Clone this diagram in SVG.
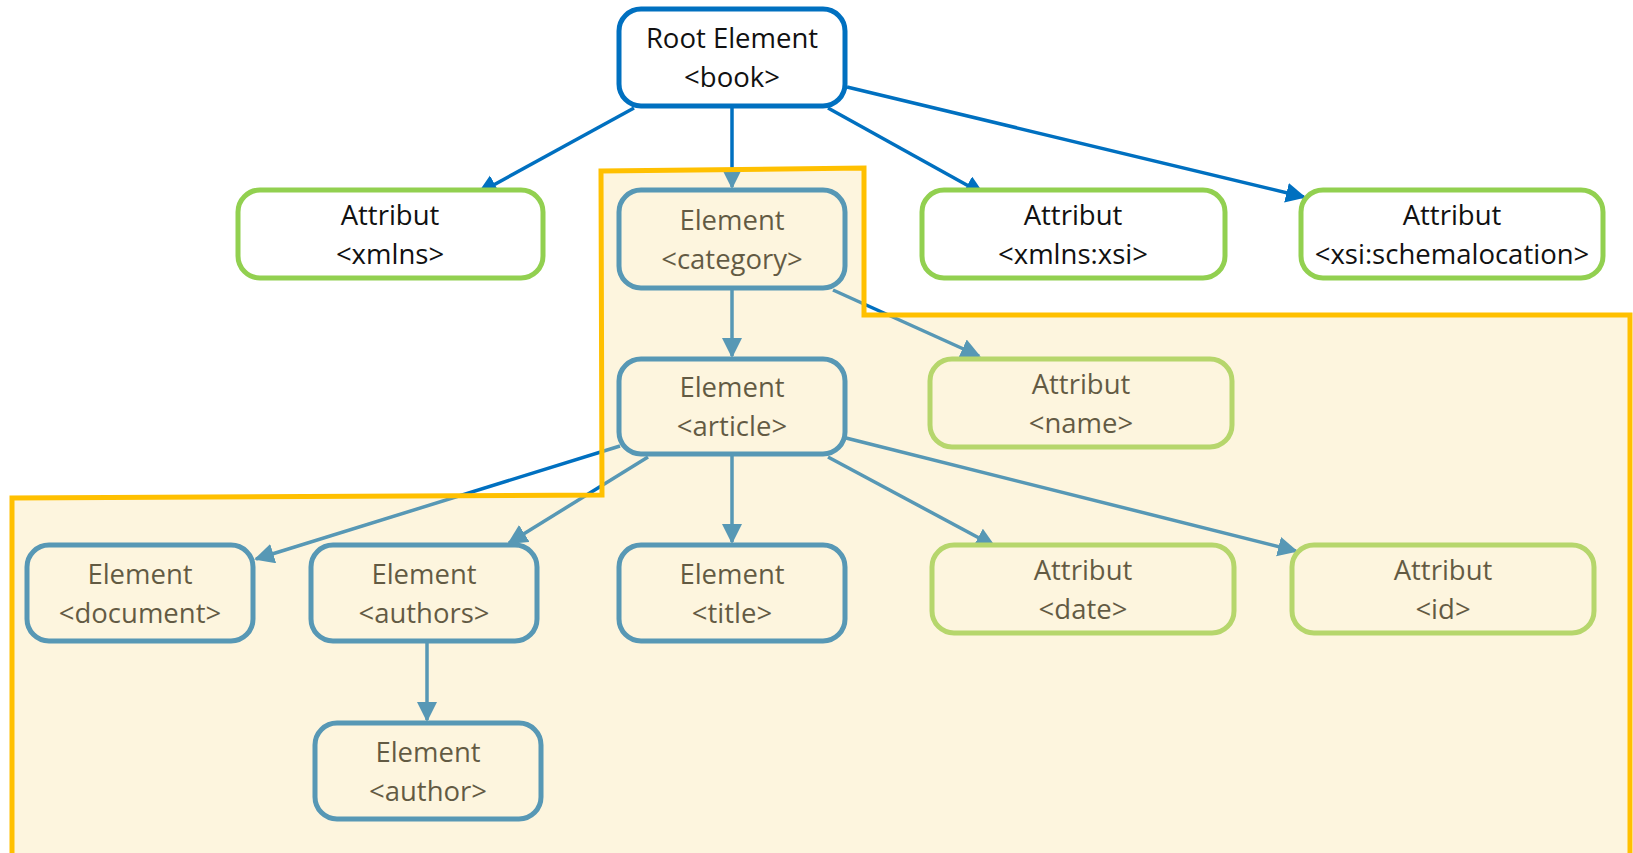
<svg xmlns="http://www.w3.org/2000/svg" width="1633" height="853" viewBox="0 0 1633 853">
  <style>
    .el { fill: #ffffff; stroke: #0070C0; stroke-width: 5; }
    .at { fill: #ffffff; stroke: #92D050; stroke-width: 5; }
    .lbl { font-family: "Open Sans", "Noto Sans", "Liberation Sans", sans-serif; font-size: 27.5px; fill: #111111; text-anchor: middle; }
    .edge { fill: none; stroke: #0070C0; stroke-width: 3.5; marker-end: url(#arrow); }
  </style>
  <defs>
    <marker id="arrow" markerUnits="userSpaceOnUse" markerWidth="22" markerHeight="22" refX="18" refY="10" orient="auto">
      <path d="M0,0 L20,10 L0,20 z" fill="#0070C0"/>
    </marker>
  </defs>
  <rect width="1633" height="853" fill="#ffffff"/>

  <g id="connectors">
    <line class="edge" x1="634" y1="108" x2="479" y2="193"/>
    <line class="edge" x1="732" y1="107" x2="732" y2="187"/>
    <line class="edge" x1="828" y1="108" x2="983" y2="194"/>
    <line class="edge" x1="847" y1="87" x2="1304" y2="197"/>
    <line class="edge" x1="732" y1="289" x2="732" y2="356"/>
    <line class="edge" x1="833" y1="290" x2="979" y2="356"/>
    <line class="edge" x1="620" y1="446" x2="256" y2="559"/>
    <line class="edge" x1="648" y1="457" x2="509" y2="543"/>
    <line class="edge" x1="732" y1="454" x2="732" y2="542"/>
    <line class="edge" x1="828" y1="457" x2="994" y2="546"/>
    <line class="edge" x1="846" y1="438" x2="1296" y2="551"/>
    <line class="edge" x1="427" y1="641" x2="427" y2="720"/>
  </g>

  <g id="root">
    <rect class="el" x="619" y="9" width="226" height="97" rx="22"/>
    <text class="lbl" x="732" y="48">Root Element</text>
    <text class="lbl" x="732" y="87">&lt;book&gt;</text>
  </g>
  <g id="attr-xmlns">
    <rect class="at" x="238" y="190" width="305" height="88" rx="22"/>
    <text class="lbl" x="390" y="225">Attribut</text>
    <text class="lbl" x="390" y="264">&lt;xmlns&gt;</text>
  </g>
  <g id="el-category">
    <rect class="el" x="619" y="190" width="226" height="98" rx="22"/>
    <text class="lbl" x="732" y="230">Element</text>
    <text class="lbl" x="732" y="269">&lt;category&gt;</text>
  </g>
  <g id="attr-xmlns-xsi">
    <rect class="at" x="922" y="190" width="303" height="88" rx="22"/>
    <text class="lbl" x="1073" y="225">Attribut</text>
    <text class="lbl" x="1073" y="264">&lt;xmlns:xsi&gt;</text>
  </g>
  <g id="attr-schemalocation">
    <rect class="at" x="1301" y="190" width="302" height="88" rx="22"/>
    <text class="lbl" x="1452" y="225">Attribut</text>
    <text class="lbl" x="1452" y="264">&lt;xsi:schemalocation&gt;</text>
  </g>
  <g id="el-article">
    <rect class="el" x="619" y="359" width="226" height="95" rx="22"/>
    <text class="lbl" x="732" y="397">Element</text>
    <text class="lbl" x="732" y="436">&lt;article&gt;</text>
  </g>
  <g id="attr-name">
    <rect class="at" x="930" y="359" width="302" height="88" rx="22"/>
    <text class="lbl" x="1081" y="394">Attribut</text>
    <text class="lbl" x="1081" y="433">&lt;name&gt;</text>
  </g>
  <g id="el-document">
    <rect class="el" x="27" y="545" width="226" height="96" rx="22"/>
    <text class="lbl" x="140" y="584">Element</text>
    <text class="lbl" x="140" y="623">&lt;document&gt;</text>
  </g>
  <g id="el-authors">
    <rect class="el" x="311" y="545" width="226" height="96" rx="22"/>
    <text class="lbl" x="424" y="584">Element</text>
    <text class="lbl" x="424" y="623">&lt;authors&gt;</text>
  </g>
  <g id="el-title">
    <rect class="el" x="619" y="545" width="226" height="96" rx="22"/>
    <text class="lbl" x="732" y="584">Element</text>
    <text class="lbl" x="732" y="623">&lt;title&gt;</text>
  </g>
  <g id="attr-date">
    <rect class="at" x="932" y="545" width="302" height="88" rx="22"/>
    <text class="lbl" x="1083" y="580">Attribut</text>
    <text class="lbl" x="1083" y="619">&lt;date&gt;</text>
  </g>
  <g id="attr-id">
    <rect class="at" x="1292" y="545" width="302" height="88" rx="22"/>
    <text class="lbl" x="1443" y="580">Attribut</text>
    <text class="lbl" x="1443" y="619">&lt;id&gt;</text>
  </g>
  <g id="el-author">
    <rect class="el" x="315" y="723" width="226" height="96" rx="22"/>
    <text class="lbl" x="428" y="762">Element</text>
    <text class="lbl" x="428" y="801">&lt;author&gt;</text>
  </g>

  <!-- translucent highlight over the category subtree -->
  <g id="highlight">
    <polygon points="601,171 864,168 864,315 1630,315 1630,870 12,870 12,498 602,495"
             fill="#F9E2A1" fill-opacity="0.35" stroke="#FFC000" stroke-width="5" stroke-linejoin="miter"/>
  </g>
</svg>
